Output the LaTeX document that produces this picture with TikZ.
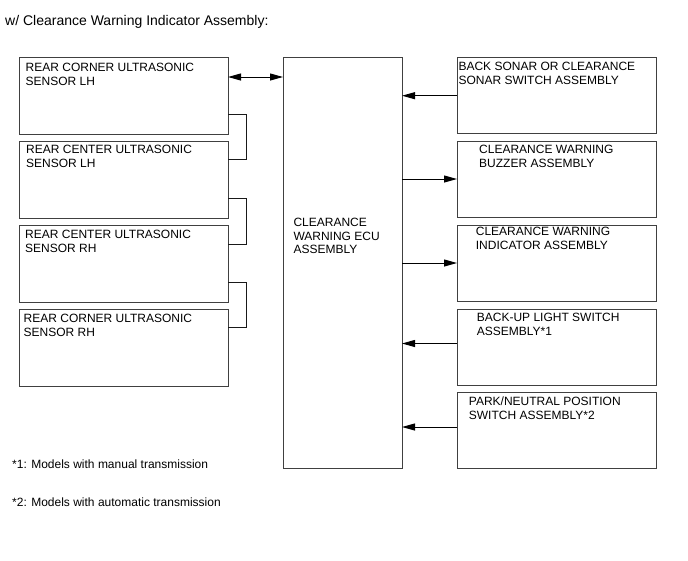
\documentclass[tikz,border=0pt]{standalone}
\usepackage{fontspec}
\setmainfont{Liberation Sans}
\usetikzlibrary{arrows.meta}
\begin{document}
\begin{tikzpicture}[x=1pt,y=-1pt,
  box/.style={draw=black!75, line width=1pt, anchor=north west, inner sep=0pt, outer sep=0pt},
  lbox/.style={box, minimum width=209pt, minimum height=77pt},
  rbox/.style={box, minimum width=199pt, minimum height=76pt},
  ecubox/.style={box, minimum width=119pt, minimum height=411pt},
  txt/.style={anchor=north west, inner sep=0pt, align=left, font=\fontsize{12}{14}\selectfont},
  note/.style={anchor=north west, inner sep=0pt, font=\fontsize{12}{14}\selectfont},
  arr/.style={line width=1pt, -{Triangle[length=13pt,width=7pt]}},
  darr/.style={line width=1pt, {Triangle[length=13pt,width=7pt]}-{Triangle[length=13pt,width=7pt]}},
  link/.style={line width=1pt, draw=black!90}]
\useasboundingbox (0,0) rectangle (688,560);

\node[anchor=north west, inner sep=0pt, font=\fontsize{14}{16}\selectfont] (title) at (5,15) {w/ Clearance Warning Indicator Assembly:};

% left sensor boxes
\node[lbox] (L1) at (19,57) {};
\node[lbox] (L2) at (19,141) {};
\node[lbox] (L3) at (19,225) {};
\node[lbox] (L4) at (19,309) {};
\node[txt] (tL1) at ([shift={(6.5,6)}]L1.north west) {REAR CORNER ULTRASONIC\\SENSOR LH};
\node[txt] (tL2) at ([shift={(7,4)}]L2.north west) {REAR CENTER ULTRASONIC\\SENSOR LH};
\node[txt] (tL3) at ([shift={(6,4.5)}]L3.north west) {REAR CENTER ULTRASONIC\\SENSOR RH};
\node[txt] (tL4) at ([shift={(4.5,4.5)}]L4.north west) {REAR CORNER ULTRASONIC\\SENSOR RH};

% ECU
\node[ecubox] (ecu) at (283,57) {};
\node[txt, font=\fontsize{12}{13.5}\selectfont] (tecu) at ([shift={(10.3,161.3)}]ecu.north west) {CLEARANCE\\WARNING ECU\\ASSEMBLY};

% right boxes
\node[rbox] (R1) at (457,57) {};
\node[rbox] (R2) at (457,141) {};
\node[rbox] (R3) at (457,225) {};
\node[rbox] (R4) at (457,309) {};
\node[rbox] (R5) at (457,392) {};
\node[txt] (tR1) at ([shift={(1.3,4.7)}]R1.north west) {BACK SONAR OR CLEARANCE\\SONAR SWITCH ASSEMBLY};
\node[txt] (tR2) at ([shift={(22,4)}]R2.north west) {CLEARANCE WARNING\\BUZZER ASSEMBLY};
\node[txt] (tR3) at ([shift={(18.7,2.3)}]R3.north west) {CLEARANCE WARNING\\INDICATOR ASSEMBLY};
\node[txt] (tR4) at ([shift={(19.7,3.7)}]R4.north west) {BACK-UP LIGHT SWITCH\\ASSEMBLY*1};
\node[txt] (tR5) at ([shift={(11.7,4.7)}]R5.north west) {PARK/NEUTRAL POSITION\\SWITCH ASSEMBLY*2};

% double arrow L1 <-> ECU
\coordinate (d1) at ([yshift=-20pt]L1.north east);
\draw[darr] (d1) -- (d1 -| ecu.west);

% brackets between sensors
\coordinate (b1a) at ([yshift=-57pt]L1.north east);
\coordinate (b1b) at ([yshift=-18pt]L2.north east);
\draw[link] (b1a) -- ++(18,0) |- (b1b);
\coordinate (b2a) at ([yshift=-57pt]L2.north east);
\coordinate (b2b) at ([yshift=-19pt]L3.north east);
\draw[link] (b2a) -- ++(18,0) |- (b2b);
\coordinate (b3a) at ([yshift=-57pt]L3.north east);
\coordinate (b3b) at ([yshift=-18pt]L4.north east);
\draw[link] (b3a) -- ++(18,0) |- (b3b);

% right arrows
\coordinate (r1) at ([yshift=-0.7pt]R1.west);
\draw[arr] (r1) -- (r1 -| ecu.east);
\coordinate (r2) at (R2.west);
\draw[arr] (r2 -| ecu.east) -- (r2);
\coordinate (r3) at (R3.west);
\draw[arr] (r3 -| ecu.east) -- (r3);
\coordinate (r4) at ([yshift=3.5pt]R4.west);
\draw[arr] (r4) -- (r4 -| ecu.east);
\coordinate (r5) at ([yshift=3pt]R5.west);
\draw[arr] (r5) -- (r5 -| ecu.east);

% notes
\node[note] (n1) at (12,459.5) {*1: Models with manual transmission};
\node[note] (n2) at (12,498) {*2: Models with automatic transmission};
\end{tikzpicture}
\end{document}
